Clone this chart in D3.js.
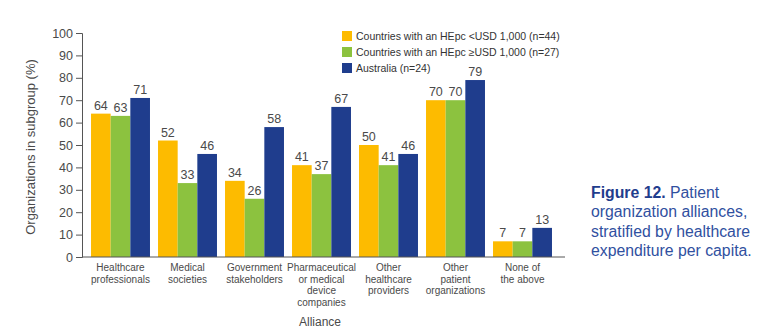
<!DOCTYPE html>
<html><head><meta charset="utf-8">
<script src="https://cdn.jsdelivr.net/npm/d3@7"></script>
<style>body{margin:0;background:#fff;} text{font-family:"Liberation Sans",Arial,sans-serif;}</style>
</head><body>
<svg id="c" width="769" height="336"></svg>
<script>
const categories = [
  ["Healthcare","professionals"],
  ["Medical","societies"],
  ["Government","stakeholders"],
  ["Pharmaceutical","or medical","device","companies"],
  ["Other","healthcare","providers"],
  ["Other","patient","organizations"],
  ["None of","the above"]
];
const seriesNames = [
  "Countries with an HEpc <USD 1,000 (n=44)",
  "Countries with an HEpc \u2265USD 1,000 (n=27)",
  "Australia (n=24)"
];
const lowHE = [64, 52, 34, 41, 50, 70, 7];
const highHE = [63, 33, 26, 37, 41, 70, 7];
const australia = [71, 46, 58, 67, 46, 79, 13];
const yTicks = [0,10,20,30,40,50,60,70,80,90,100];
const colors = ["#FDBB00", "#8CC23F", "#1F3D8D"];
const series = [lowHE, highHE, australia];

const svg = d3.select("#c");
const textCol = "#4a4a4a";
const y = d3.scaleLinear().domain([0,100]).range([257, 33]);
const x = d3.scaleBand().domain(d3.range(categories.length)).range([87, 556]).paddingInner(0.12).paddingOuter(0.06);
const xs = d3.scaleBand().domain(d3.range(3)).range([0, x.bandwidth()]);

// y axis
const yAxis = d3.axisLeft(y).tickValues(yTicks).tickSize(6).tickPadding(3);
const gy = svg.append("g").attr("transform","translate(82,0)").call(yAxis);
gy.select(".domain").attr("stroke","#555");
gy.selectAll(".tick line").attr("stroke","#555");
gy.selectAll(".tick text").attr("fill",textCol).style("font-size","12.5px").style("font-family","Liberation Sans, Arial, sans-serif");

// bars
categories.forEach((c,i)=>{
  series.forEach((s,j)=>{
    svg.append("rect").attr("x", x(i)+xs(j)).attr("y", y(s[i]))
      .attr("width", xs.bandwidth()).attr("height", y(0)-y(s[i])).attr("fill", colors[j]);
    svg.append("text").attr("x", x(i)+xs(j)+xs.bandwidth()/2).attr("y", y(s[i])-4)
      .attr("text-anchor","middle").attr("fill",textCol).style("font-size","12.5px").text(s[i]);
  });
});

// x axis line
svg.append("line").attr("x1",82).attr("x2",565).attr("y1",y(0)).attr("y2",y(0)).attr("stroke","#555");

// category labels
categories.forEach((c,i)=>{
  const t = svg.append("text").attr("x", x(i)+x.bandwidth()/2).attr("y", 271)
    .attr("text-anchor","middle").attr("fill",textCol).style("font-size","10px");
  c.forEach((line,k)=>t.append("tspan").attr("x", x(i)+x.bandwidth()/2).attr("dy", k===0?0:11.5).text(line));
});

// axis titles
svg.append("text").attr("x",320).attr("y",326).attr("text-anchor","middle").attr("fill",textCol).style("font-size","12px").text("Alliance");
svg.append("text").attr("transform","translate(35,147) rotate(-90)").attr("text-anchor","middle").attr("fill",textCol).style("font-size","13px").text("Organizations in subgroup (%)");

// legend
seriesNames.forEach((n,j)=>{
  const ly = 36 + j*16;
  svg.append("rect").attr("x",342).attr("y",ly-5).attr("width",10).attr("height",10).attr("fill",colors[j]);
  svg.append("text").attr("x",356).attr("y",ly+4).attr("fill","#333").style("font-size","10.5px").text(n);
});

// figure caption
const cap = svg.append("text").attr("x",591).attr("y",198).attr("fill","#3050A0").style("font-size","15.8px");
cap.append("tspan").attr("font-weight","bold").attr("fill","#1F3D8D").text("Figure 12.");
cap.append("tspan").text(" Patient");
["organization alliances,","stratified by healthcare","expenditure per capita."].forEach((l,k)=>{
  cap.append("tspan").attr("x",591).attr("dy",19.4).text(l);
});
</script>
</body></html>
